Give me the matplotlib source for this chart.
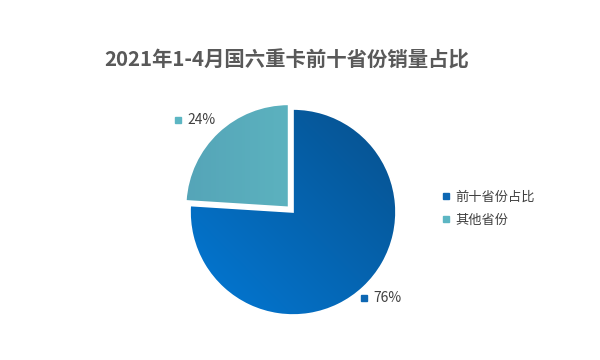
import numpy as np
import matplotlib.pyplot as plt
from matplotlib.colors import LinearSegmentedColormap
from matplotlib.lines import Line2D

plt.rcParams['font.family'] = ['Noto Sans CJK SC', 'DejaVu Sans']

title = '2021年1-4月国六重卡前十省份销量占比'
labels = ['前十省份占比', '其他省份']
shares = [76, 24]

# gradient endpoints (start -> end) for each slice, plus flat legend colour
grad_colors = [('#0379d6', '#07508c'), ('#55a5b8', '#63bfc6')]
legend_colors = ['#0d67b3', '#5cb6c3']

fig = plt.figure(figsize=(6, 3.6), dpi=100)
ax = fig.add_axes([0, 0, 1, 1])

cx, cy, r = 293, 148, 103
# explode is in data units here (pie offsets by expl, not expl*radius)
wedges, _ = ax.pie(shares, center=(cx, cy), radius=r, startangle=90,
                   counterclock=False, explode=[0, 6.4],
                   colors=[c[1] for c in grad_colors],
                   wedgeprops=dict(edgecolor='white', linewidth=1.2),
                   frame=True)

# paint diagonal gradients clipped to each wedge
for w, (c0, c1), diag in zip(wedges, grad_colors, [True, False]):
    cmap = LinearSegmentedColormap.from_list('g', [c0, c1])
    n = 200
    yy, xx = np.mgrid[0:1:n * 1j, 0:1:n * 1j]
    z = (xx + yy) / 2 if diag else xx
    x0, y0 = w.center[0] - r, w.center[1] - r
    im = ax.imshow(z, cmap=cmap, origin='lower',
                   extent=[x0, x0 + 2 * r, y0, y0 + 2 * r],
                   interpolation='bilinear', zorder=w.get_zorder() + 0.1)
    im.set_clip_path(w)
    w.set_zorder(w.get_zorder() + 0.2)
    w.set_facecolor('none')

ax.set_xlim(0, 600)
ax.set_ylim(0, 360)
ax.set_aspect('equal')
ax.axis('off')

# percentage labels with small square markers
label_pos = [(381, 62), (195, 240)]
for (lx, ly), s, c in zip(label_pos, shares, legend_colors):
    ax.plot(lx - 17, ly, marker='s', markersize=5, color=c, linestyle='none')
    ax.text(lx - 8, ly, f'{s}%', fontsize=10, color='#404040',
            va='center', ha='left')

fig.text(0.478, 0.833, title, fontsize=14.7, fontweight='bold',
         color='#595959', ha='center', va='center')

handles = [Line2D([], [], marker='s', markersize=5, color=c, linestyle='none')
           for c in legend_colors]
ax.legend(handles, labels, loc='center left', bbox_to_anchor=(0.712, 0.42),
          frameon=False, fontsize=9.5, handletextpad=0.2, labelspacing=0.75,
          handlelength=1.0, labelcolor='#404040')

fig.savefig('out.png', dpi=100)
